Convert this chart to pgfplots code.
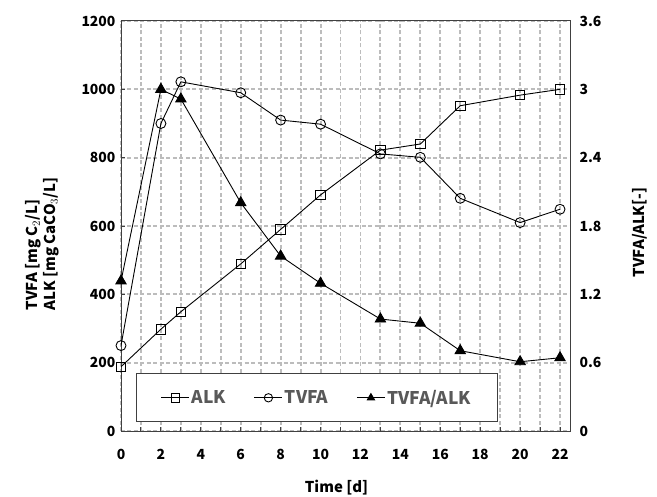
\documentclass[border=0pt]{standalone}
\usepackage{pgfplots}
\pgfplotsset{compat=1.18}
\usepackage{fontspec}
\setmainfont{Noto Sans CJK KR}

\definecolor{gridgray}{RGB}{188,188,188}
\definecolor{leggray}{RGB}{89,89,89}
\definecolor{framegray}{RGB}{64,64,64}

\pgfplotsset{
  base/.style={
    scale only axis,
    width=449bp, height=410bp,
    xmin=0, xmax=22.5,
    axis line style={framegray, line width=1pt},
    ticklabel style={font=\fontsize{14}{16}\selectfont\bfseries},
    label style={font=\fontsize{15}{18}\selectfont\bfseries},
    /pgf/number format/assume math mode=true,
    /pgf/number format/1000 sep={},
  },
  alk/.style={black, line width=0.9pt, mark=square, mark size=4.8pt, mark options={fill=white, solid}},
  tvfa/.style={black, line width=0.9pt, mark=o, mark size=5pt, mark options={fill=white, solid}},
  ratio/.style={black, line width=0.9pt, mark=triangle*, mark size=6pt, mark options={fill=black, solid}},
}

\begin{document}
\begin{tikzpicture}
\begin{axis}[base, name=ax,
    ymin=0, ymax=1200, ytick={0,200,...,1200},
    xtick={0,2,...,22}, minor xtick={1,3,...,21},
    tick pos=left,
    tick align=inside, major tick length=4bp, minor tick length=4bp,
    tick style={framegray, line width=1pt},
    xmajorgrids=true, xminorgrids=true, ymajorgrids=true,
    major grid style={draw=gridgray, dash pattern=on 4bp off 2.5bp, line width=1.9pt},
    minor grid style={draw=gridgray, dash pattern=on 4bp off 2.5bp, line width=1.9pt},
    xticklabel style={yshift=-15bp},
    yticklabel style={xshift=-2bp},
    xlabel={Time [d]},
    xlabel style={at={(axis description cs:0.48,-0.137)}, anchor=center},
    ylabel={TVFA [mg C$_2$/L]\\ALK [mg CaCO$_3$/L]},
    ylabel style={at={(axis description cs:-0.175,0.456)}, anchor=center, align=left},
  ]
  \addplot[alk] coordinates {
    (0,188) (2,298) (3,349) (6,489) (8,590) (10,691) (13,822) (15,840) (17,952) (20,983) (22,1000)
  };
  \addplot[tvfa] coordinates {
    (0,250) (2,900) (3,1022) (6,990) (8,910) (10,898) (13,811) (15,801) (17,681) (20,610) (22,649)
  };
\end{axis}
\begin{axis}[base,
    ymin=0, ymax=3.6, ytick={0,0.6,...,3.6},
    axis y line*=right, axis x line=none,
    major tick length=0pt,
    yticklabel style={xshift=6bp},
    ylabel={TVFA/ALK[-]},
    ylabel style={at={(axis description cs:1.156,0.484)}, anchor=center},
    legend columns=3,
    legend style={at={(axis description cs:0.4365,0.081)}, anchor=center,
      draw=framegray, line width=1pt, fill=white,
      inner xsep=24bp, inner ysep=14bp,
      font=\fontsize{17.5}{20}\selectfont\bfseries, text=leggray,
      /tikz/every even column/.append style={column sep=26bp}},
    legend image code/.code={
      \draw[#1, mark repeat=2, mark phase=2, mark size=4.2pt]
        plot coordinates {(0bp,0bp) (14bp,0bp) (28bp,0bp)};},
  ]
  \addlegendimage{alk}
  \addlegendentry{ALK}
  \addlegendimage{tvfa}
  \addlegendentry{TVFA}
  \addplot[ratio] coordinates {
    (0,1.317) (2,3.0) (3,2.915) (6,2.004) (8,1.536) (10,1.297) (13,0.983) (15,0.946) (17,0.705) (20,0.608) (22,0.643)
  };
  \addlegendentry{TVFA/ALK}
\end{axis}
\pgfresetboundingbox
\path[use as bounding box] ([xshift=-121bp,yshift=-66bp]ax.south west) rectangle ([xshift=87bp,yshift=21bp]ax.north east);
\end{tikzpicture}
\end{document}
